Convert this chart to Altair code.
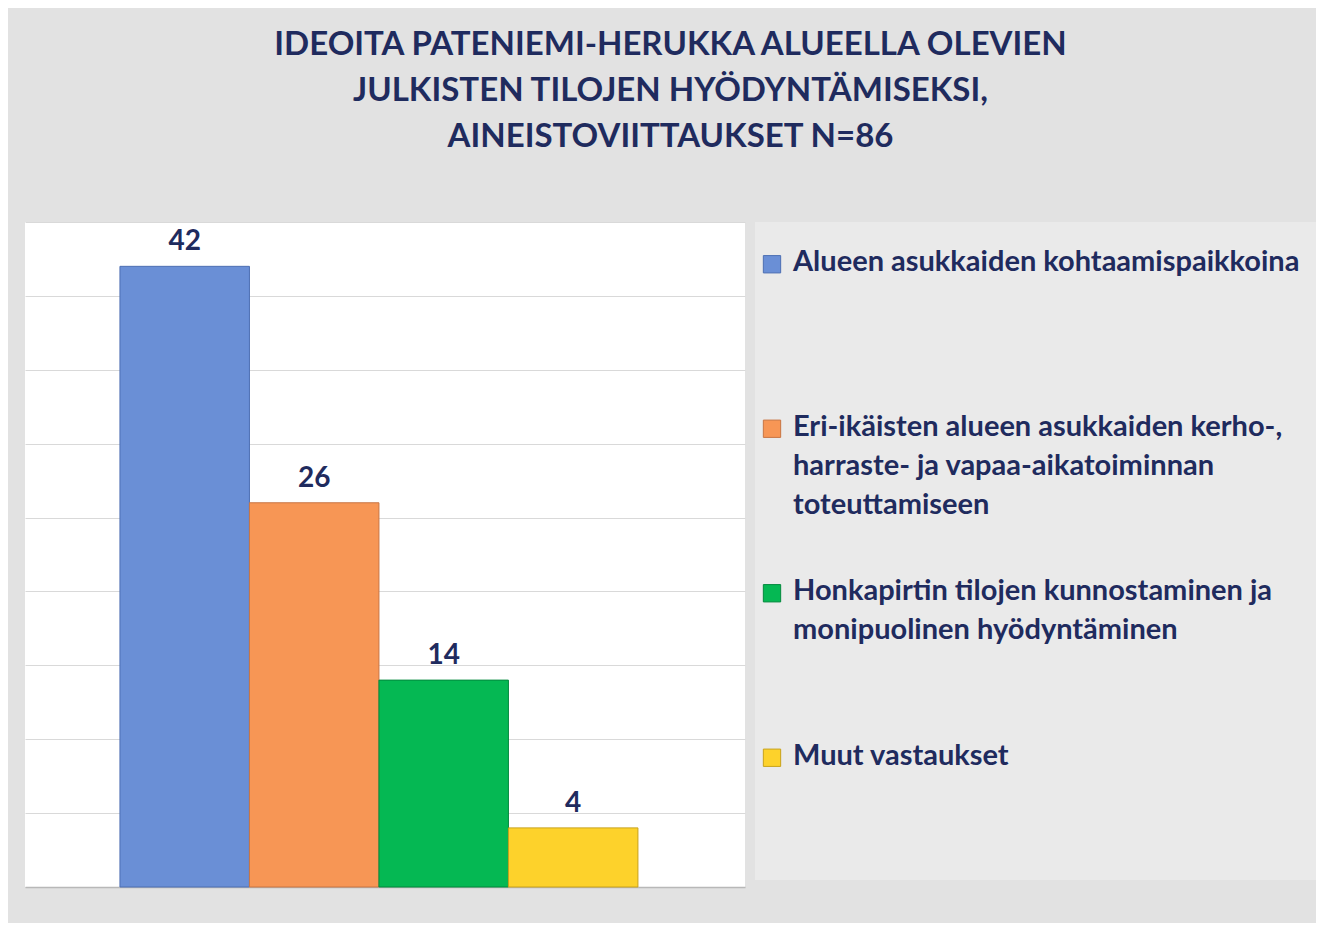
import altair as alt
import pandas as pd

title_lines = [
    "IDEOITA PATENIEMI-HERUKKA ALUEELLA OLEVIEN",
    "JULKISTEN TILOJEN HYÖDYNTÄMISEKSI,",
    "AINEISTOVIITTAUKSET N=86",
]
categories = [
    "Alueen asukkaiden kohtaamispaikkoina",
    "Eri-ikäisten alueen asukkaiden kerho-, harraste- ja vapaa-aikatoiminnan toteuttamiseen",
    "Honkapirtin tilojen kunnostaminen ja monipuolinen hyödyntäminen",
    "Muut vastaukset",
]
legend_labels = [
    "Alueen asukkaiden kohtaamispaikkoina",
    "Eri-ikäisten alueen asukkaiden kerho-,\nharraste- ja vapaa-aikatoiminnan\ntoteuttamiseen",
    "Honkapirtin tilojen kunnostaminen ja\nmonipuolinen hyödyntäminen",
    "Muut vastaukset",
]
values = [42, 26, 14, 4]
fill_colors = ["#6a8fd6", "#f79655", "#05b853", "#fdd22b"]
edge_colors = ["#4d6fb3", "#c87543", "#03893d", "#c8a21a"]
grid_values = [0, 5, 10, 15, 20, 25, 30, 35, 40, 45]

NAVY = "#1f2b5e"
FONT = "Lato"

df = pd.DataFrame({"cat": categories, "value": values, "label": legend_labels})

color_scale = alt.Scale(domain=categories, range=fill_colors)
stroke_scale = alt.Scale(domain=categories, range=edge_colors)

x_enc = alt.X(
    "cat:N",
    sort=categories,
    title=None,
    scale=alt.Scale(paddingInner=0, paddingOuter=0.78, align=0.47),
    axis=alt.Axis(labels=False, ticks=False, grid=False, domainColor="#b8b8b8", domainWidth=1.5),
)
y_enc = alt.Y(
    "value:Q",
    title=None,
    scale=alt.Scale(domain=[0, 45], nice=False),
    axis=alt.Axis(values=grid_values, labels=False, ticks=False, domain=False,
                  grid=True, gridColor="#d9d9d9", gridWidth=1.2),
)

base = alt.Chart(df)
bars = base.mark_bar(strokeWidth=1).encode(
    x=x_enc,
    y=y_enc,
    color=alt.Color("cat:N", scale=color_scale, legend=None),
    stroke=alt.Stroke("cat:N", scale=stroke_scale, legend=None),
)
bar_labels = base.mark_text(
    baseline="bottom", dy=-10, font=FONT, fontWeight="bold", fontSize=28, color=NAVY
).encode(x=x_enc, y=y_enc, text="value:Q")

bar_chart = alt.layer(bars, bar_labels).properties(
    width=720, height=665,
    view=alt.ViewBackground(fill="white", strokeWidth=0),
)

leg_y = alt.Y("cat:N", sort=categories, axis=None,
              scale=alt.Scale(paddingInner=0, paddingOuter=0))
leg_base = alt.Chart(df)
leg_sym = leg_base.mark_square(size=300, opacity=1, filled=True, strokeWidth=1).encode(
    y=leg_y,
    x=alt.value(17),
    yOffset=alt.value(-40),
    color=alt.Color("cat:N", scale=color_scale, legend=None),
    stroke=alt.Stroke("cat:N", scale=stroke_scale, legend=None),
)
leg_text = leg_base.mark_text(
    align="left", baseline="top", dy=-56, lineBreak="\n", lineHeight=39,
    font=FONT, fontWeight="bold", fontSize=29, color=NAVY,
).encode(y=leg_y, x=alt.value(38), text="label:N")

legend_chart = alt.layer(leg_sym, leg_text).properties(
    width=561, height=658,
    view=alt.ViewBackground(fill="#eaeaea", strokeWidth=0),
)

chart = alt.hconcat(bar_chart, legend_chart, spacing=10).properties(
    title=alt.TitleParams(
        text=title_lines, font=FONT, fontSize=33, fontWeight="bold", color=NAVY,
        lineHeight=46, anchor="middle", offset=68,
    ),
    padding={"left": 17, "top": 21, "right": 0, "bottom": 35},
    background="#e2e2e2",
).configure_view(strokeWidth=0)

chart.save("out.html", embed_options={"renderer": "svg", "actions": False})
